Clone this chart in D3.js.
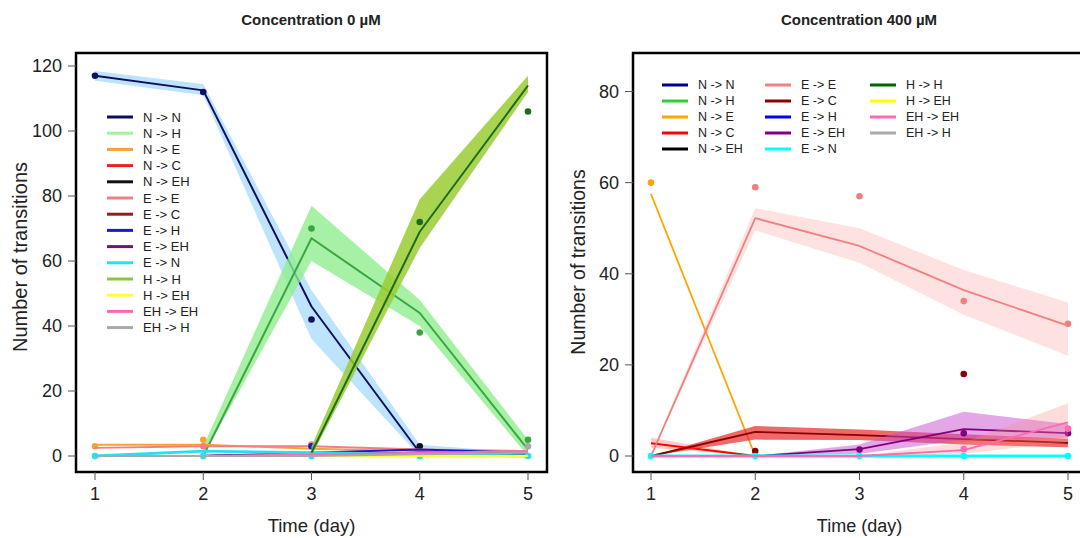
<!DOCTYPE html>
<html>
<head>
<meta charset="utf-8" />
<title>Transitions</title>
<style type="text/css">
  body { margin: 0; background: #fff; }
  svg { display: block; font-family: "Liberation Sans", Arial, sans-serif; }
</style>
<script src="https://d3js.org/d3.v7.min.js"></script>
</head>
<body>
<div id="chart"></div>
<script>

// ---- data ----
var days = [1, 2, 3, 4, 5];
var transitions = ["N -> N", "N -> H", "N -> E", "N -> C", "N -> EH", "E -> E", "E -> C",
                   "E -> H", "E -> EH", "E -> N", "H -> H", "H -> EH", "EH -> EH", "EH -> H"];
var titles = ["Concentration 0 \u00b5M", "Concentration 400 \u00b5M"];
var yTicks0 = [0, 20, 40, 60, 80, 100, 120];
var yTicks400 = [0, 20, 40, 60, 80];

// 0 uM : fitted values (null = not drawn)
var fit0 = [
  [117, 112.5, 46, 1, 0],
  [null, 0, 67, 44, 2],
  [3.5, 3.5, 2.2, 1.5, 1],
  [0, 0, 0.5, 0.5, 0],
  [0, 0, 0.5, 1, 0.5],
  [2.5, 3, 3, 2, 1.5],
  [0, 0, 0.3, 0.5, 0.3],
  [0, 0, 1, 2, 1],
  [0, 0, 0.5, 1, 1],
  [0, 1.5, 1, 0.5, 0],
  [null, null, 1, 69, 114],
  [0, 0, 0, 0, 0],
  [0, 0, 0.5, 1, 1.5],
  [0, 0, 0, 0.5, 1]
];
var lo0 = [
  [115.5, 111, 36, 0, 0],
  [null, 0, 60, 40, 0],
  null, null, null, null, null, null, null, null,
  [null, null, 0, 64, 112],
  null, null, null
];
var hi0 = [
  [118.5, 114.5, 51, 3.5, 1],
  [null, 3, 77, 48, 5],
  null, null, null, null, null, null, null, null,
  [null, null, 3, 79, 117],
  null, null, null
];
var obs0 = [
  [117, 112, 42, null, null],
  [null, null, 70, 38, 5],
  [3, 5, null, null, null],
  null,
  [null, null, null, 3, null],
  [null, 3, 3.5, null, null],
  null,
  [null, null, 3, null, null],
  null,
  [0, 0, 0, 0, 0],
  [null, null, null, 72, 106],
  null,
  null,
  [null, null, null, null, 3]
];

// 400 uM
var fit400 = [
  null,
  null,
  [57.5, 0, null, null, null],
  [2.8, 0, 0, 0, 0],
  null,
  [0, 52.2, 46.1, 36.4, 28.6],
  [0, 5.3, 4.6, 3.7, 2.9],
  null,
  [0, 0, 1.5, 5.9, 5],
  [0, 0, 0, 0, 0],
  null,
  null,
  [0, 0, 0, 1.3, 7.4],
  null
];
var lo400 = [
  null, null, null,
  [1.8, 0, 0, 0, 0],
  null,
  [0, 49.5, 42.4, 31, 22],
  [0, 3.6, 3.5, 2.5, 1.9],
  null,
  [0, 0, 0.5, 3.5, 4],
  null, null, null,
  [0, 0, 0, 0.5, 3.1],
  null
];
var hi400 = [
  null, null, null,
  [4, 0, 0, 0, 0],
  null,
  [0.5, 54.4, 50, 40.8, 33.7],
  [0, 6.6, 5.8, 4.8, 3.8],
  null,
  [0, 0, 2.5, 9.7, 7],
  null, null, null,
  [0, 0, 0, 3, 11.6],
  null
];
var obs400 = [
  null, null,
  [60, null, null, null, null],
  null, null,
  [null, 59, 57, 34, 29],
  [null, 1.1, null, 18, null],
  null,
  [null, null, 1.4, 5, 5],
  [0, 0, 0, 0, 0],
  null, null,
  [null, null, null, 1.5, 6],
  null
];

// ---- styles ----
var legendColors0 = ["#0c0c5c", "#a2f0a2", "#f5a332", "#e82028", "#111111", "#f08080", "#8b2222",
                     "#1a1ad0", "#6a1a6a", "#22e2f2", "#8cc63f", "#ffff33", "#ff69b4", "#a9a9a9"];
var lineColors0 = ["#10105e", "#3aa640", "#f5a332", "#e82028", "#111111", "#f08080", "#8b2222",
                   "#1a1ad0", "#6a1a6a", "#22e2f2", "#1e6b1e", "#ffff33", "#ff69b4", "#a9a9a9"];
var bandColors0 = ["rgba(135,206,250,0.55)", "rgba(144,238,144,0.8)", null, null, null, null, null,
                   null, null, null, "rgba(154,205,50,0.85)", null, null, null];

var colors400 = ["#00008b", "#32cd32", "#ffa500", "#ff0000", "#000000", "#f08080", "#8b0000",
                 "#0000ff", "#800080", "#00ffff", "#006400", "#ffff00", "#ff69b4", "#a9a9a9"];
var bandColors400 = [null, null, null, "rgba(255,100,100,0.35)", null, "rgba(250,128,128,0.24)",
                     "rgba(235,40,40,0.7)", null, "rgba(200,80,210,0.5)", null, null, null,
                     "rgba(255,140,140,0.3)", null];

var W = 1080, H = 538;
var svg = d3.select("#chart").append("svg")
    .attr("width", W).attr("height", H);

function drawPanel(p) {
  var x = d3.scaleLinear().domain([1, 5]).range(p.xRange);
  var y = d3.scaleLinear().domain([0, p.yTicks[p.yTicks.length - 1]]).range(p.yRange);
  var g = svg.append("g");

  // series: band, line, points
  transitions.forEach(function(name, i) {
    var f = p.fit[i], lo = p.lo[i], hi = p.hi[i], ob = p.obs[i];
    if (lo && hi && p.bandColors[i]) {
      var area = d3.area()
        .defined(function(d) { return d.lo != null; })
        .x(function(d) { return x(d.day); })
        .y0(function(d) { return y(d.lo); })
        .y1(function(d) { return y(d.hi); });
      g.append("path")
        .datum(days.map(function(d, k) { return {day: d, lo: lo[k], hi: hi[k]}; }))
        .attr("d", area)
        .attr("fill", p.bandColors[i]);
    }
    if (f) {
      var line = d3.line()
        .defined(function(d) { return d.v != null; })
        .x(function(d) { return x(d.day); })
        .y(function(d) { return y(d.v); });
      g.append("path")
        .datum(days.map(function(d, k) { return {day: d, v: f[k]}; }))
        .attr("d", line)
        .attr("fill", "none")
        .attr("stroke", p.lineColors[i])
        .attr("stroke-width", name == "E -> N" ? 3 : p.lineWidth)
        .attr("stroke-linejoin", "round");
    }
    if (ob) {
      g.selectAll(null)
        .data(days.map(function(d, k) { return {day: d, v: ob[k]}; }).filter(function(d) { return d.v != null; }))
        .enter().append("circle")
        .attr("cx", function(d) { return x(d.day); })
        .attr("cy", function(d) { return y(d.v); })
        .attr("r", p.dotR)
        .attr("fill", p.lineColors[i]);
    }
  });

  // box
  g.append("rect")
    .attr("x", p.box[0]).attr("y", p.box[1])
    .attr("width", p.box[2] - p.box[0]).attr("height", p.box[3] - p.box[1])
    .attr("fill", "none").attr("stroke", "#000").attr("stroke-width", 2.5);

  // axes (R style: ticks outside box)
  var yAxis = g.append("g");
  yAxis.selectAll("line").data(p.yTicks).enter().append("line")
    .attr("x1", p.box[0] - 8).attr("x2", p.box[0])
    .attr("y1", function(d) { return y(d); }).attr("y2", function(d) { return y(d); })
    .attr("stroke", "#555").attr("stroke-width", 1);
  yAxis.selectAll("text").data(p.yTicks).enter().append("text")
    .attr("x", p.box[0] - 14)
    .attr("y", function(d) { return y(d); })
    .attr("dy", "0.35em")
    .attr("text-anchor", "end")
    .attr("font-size", p.tickFont)
    .attr("fill", "#222")
    .text(function(d) { return d; });

  var xAxis = g.append("g");
  xAxis.selectAll("line").data(days).enter().append("line")
    .attr("x1", function(d) { return x(d); }).attr("x2", function(d) { return x(d); })
    .attr("y1", p.box[3]).attr("y2", p.box[3] + 8)
    .attr("stroke", "#555").attr("stroke-width", 1);
  xAxis.selectAll("text").data(days).enter().append("text")
    .attr("x", function(d) { return x(d); })
    .attr("y", p.box[3] + 28)
    .attr("text-anchor", "middle")
    .attr("font-size", p.tickFont)
    .attr("fill", "#222")
    .text(function(d) { return d; });

  g.append("text")
    .attr("x", (p.xRange[0] + p.xRange[1]) / 2)
    .attr("y", 532)
    .attr("text-anchor", "middle")
    .attr("font-size", p.labelFont)
    .attr("fill", "#222")
    .text("Time (day)");

  g.append("text")
    .attr("transform", "translate(" + p.yLabelX + "," + p.yLabelY + ") rotate(-90)")
    .attr("text-anchor", "middle")
    .attr("dy", "0.35em")
    .attr("font-size", p.yLabelFont)
    .attr("fill", "#222")
    .text("Number of transitions");

  g.append("text")
    .attr("x", p.titleX).attr("y", 25)
    .attr("text-anchor", "middle")
    .attr("font-size", 15).attr("font-weight", "bold")
    .attr("fill", "#222")
    .text(p.title);

  // legend
  var leg = g.append("g");
  transitions.forEach(function(name, i) {
    var col = Math.floor(i / p.legRows), row = i % p.legRows;
    var lx = p.legX[col], ly = p.legY + row * p.legStep;
    leg.append("line")
      .attr("x1", lx).attr("x2", lx + 26)
      .attr("y1", ly).attr("y2", ly)
      .attr("stroke", p.legendColors[i]).attr("stroke-width", 3);
    leg.append("text")
      .attr("x", lx + 36).attr("y", ly)
      .attr("dy", "0.35em")
      .attr("font-size", p.legFont)
      .attr("fill", "#222")
      .text(name);
  });
}

drawPanel({
  title: titles[0], titleX: 311,
  fit: fit0, lo: lo0, hi: hi0, obs: obs0,
  lineColors: lineColors0, legendColors: legendColors0, bandColors: bandColors0,
  xRange: [95, 528], yRange: [456, 66], yTicks: yTicks0,
  box: [76, 53, 547, 472],
  tickFont: 18, labelFont: 18.5, yLabelFont: 20, yLabelX: 20, yLabelY: 257,
  lineWidth: 2, dotR: 3.3,
  legX: [107], legY: 117, legStep: 16.2, legRows: 14, legFont: 13
});

drawPanel({
  title: titles[1], titleX: 859,
  fit: fit400, lo: lo400, hi: hi400, obs: obs400,
  lineColors: colors400, legendColors: colors400, bandColors: bandColors400,
  xRange: [651, 1068], yRange: [456, 91.5], yTicks: yTicks400,
  box: [633, 53, 1090, 472],
  tickFont: 18, labelFont: 18, yLabelFont: 19.5, yLabelX: 578, yLabelY: 262,
  lineWidth: 1.8, dotR: 3.3,
  legX: [662, 765, 870], legY: 85, legStep: 16, legRows: 5, legFont: 12.5
});

</script>
</body>
</html>
